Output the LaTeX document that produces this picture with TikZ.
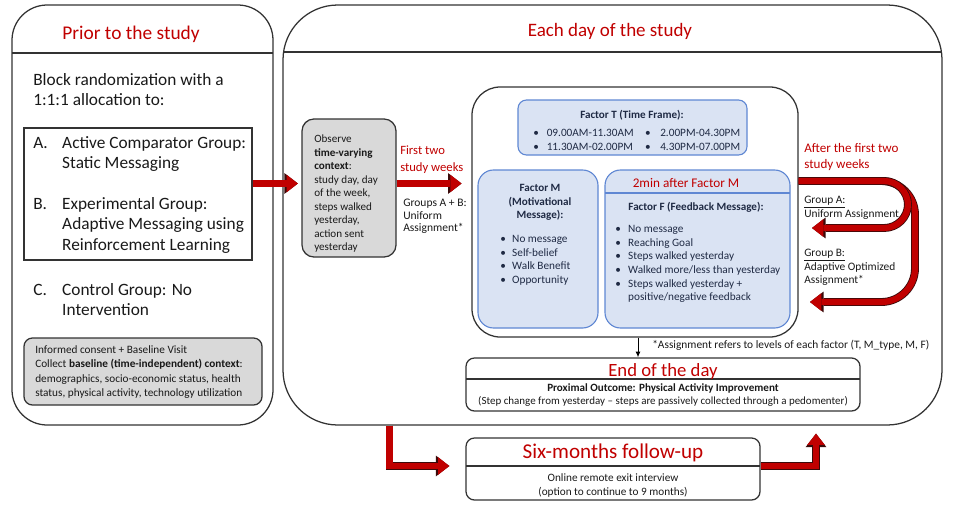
\documentclass[tikz,border=0pt]{standalone}
\usepackage{fontspec}
\setmainfont{Carlito}
\usepackage{tikz}
\usetikzlibrary{arrows.meta,fit}

\definecolor{titred}{HTML}{C00000}
\definecolor{arrred}{HTML}{C00000}
\definecolor{arredge}{HTML}{3A0A0A}
\definecolor{boxgray}{HTML}{D9D9D9}
\definecolor{factfill}{HTML}{DAE3F3}
\definecolor{factline}{HTML}{5F87D3}
\definecolor{facttext}{HTML}{1F2A44}
\definecolor{panelline}{HTML}{333333}

\newcommand{\fsz}[2]{\fontsize{#1}{#2}\selectfont}
\newcommand{\bul}{\textbullet}

\tikzset{
  panel/.style={draw=panelline, line width=0.9pt, rounded corners=#1, inner sep=0pt},
  graybox/.style={panel=#1, fill=boxgray},
  factor/.style={draw=factline, line width=0.8pt, fill=factfill, rounded corners=#1, inner sep=0pt},
  txt/.style={inner sep=0pt, anchor=base west, text=black!90},
  ftxt/.style={txt, text=facttext},
  redarrow/.style={draw=arrred, line width=4.4pt,
    -{Triangle[length=8pt,width=12.5pt,line width=0pt]},
    preaction={draw=arredge, line width=5.6pt,
      -{Triangle[length=9.6pt,width=14.8pt,line width=0pt]}}},
}

\begin{document}
\begin{tikzpicture}[x=0.025cm,y=-0.025cm]
  \useasboundingbox (0,0) rectangle (964,506);
  %
  % Prior to the study
  \node[panel=25pt, fit={(12,5) (273,425)}] (prior) {};
  \draw[panelline, line width=0.9pt] (12,53) -- (273,53);
  \node[txt, anchor=base, font=\fsz{13.8}{15}, text=titred] (priortitle) at (131,39) {Prior to the study};
  \node[txt, font=\fsz{12.3}{14.3}] (intro) at (33,85.5)
    {\begin{tabular}[t]{@{}l@{}}Block randomization with a\\1:1:1 allocation to:\end{tabular}};
  \node[panel=0pt, fit={(24,128) (252,260)}] (grp) {};
  \node[txt, font=\fsz{12.3}{14.3}] (grplist) at (33,148.5)
    {\begin{tabular}[t]{@{}p{20.6pt}@{}l@{}}
      A. & Active Comparator Group:\\
         & Static Messaging\\[15pt]
      B. & Experimental Group:\\
         & Adaptive Messaging using\\
         & Reinforcement Learning
    \end{tabular}};
  \node[txt, font=\fsz{12.3}{14.3}] (ctrl) at (33,295.5)
    {\begin{tabular}[t]{@{}p{20.6pt}@{}l@{}}
      C. & Control Group: No\\
         & Intervention
    \end{tabular}};
  \node[graybox=6pt, fit={(24,338) (262,405)}] (base) {};
  \node[txt, font=\fsz{8}{10.2}] (basetxt) at (35,353.5)
    {\begin{tabular}[t]{@{}l@{}}
      Informed consent + Baseline Visit\\
      Collect \textbf{baseline (time-independent) context}:\\
      demographics, socio-economic status, health\\
      status, physical activity, technology utilization
    \end{tabular}};
  %
  % Each day of the study
  \node[panel=39pt, fit={(283,5) (942,425)}] (study) {};
  \draw[panelline, line width=0.9pt] (283,52) -- (942,52);
  \node[txt, anchor=base, font=\fsz{13.5}{15}, text=titred] (studytitle) at (610,36) {Each day of the study};
  %
  \node[graybox=8.5pt, fit={(302,119) (396,257)}] (observe) {};
  \node[txt, font=\fsz{7.9}{9.6}] (obstxt) at (314,142.5)
    {\begin{tabular}[t]{@{}l@{}}
      Observe\\ \textbf{time-varying}\\ \textbf{context}:\\ study day, day\\ of the week,\\
      steps walked\\ yesterday,\\ action sent\\ yesterday
    \end{tabular}};
  \node[txt, font=\fsz{9}{12.1}, text=titred] (firsttwo) at (400,154)
    {\begin{tabular}[t]{@{}l@{}}First two\\study weeks\end{tabular}};
  \node[txt, font=\fsz{8.2}{9}] (uniform) at (403,206.5)
    {\begin{tabular}[t]{@{}l@{}}Groups A + B:\\Uniform\\Assignment*\end{tabular}};
  %
  \node[panel=20pt, fit={(472,87) (798,337)}] (daily) {};
  % factor T
  \node[factor=6pt, fit={(518,100) (747,155)}] (factT) {};
  \node[ftxt, anchor=base, font=\bfseries\fsz{7.9}{10}] (factTtitle) at (632,118.5) {Factor T (Time Frame):};
  \node[ftxt, font=\fsz{8}{10}] (factTlist) at (533,136.5)
    {\begin{tabular}[t]{@{}p{9.6pt}@{}p{70pt}@{}p{10.7pt}@{}l@{}}
      \bul & 09.00AM-11.30AM & \bul & 2.00PM-04.30PM\\
      \bul & 11.30AM-02.00PM & \bul & 4.30PM-07.00PM
    \end{tabular}};
  % factor M
  \node[factor=11pt, fit={(478,170) (598,328)}] (factM) {};
  \node[ftxt, anchor=base, font=\bfseries\fsz{7.9}{9.6}] (factMtitle) at (540,191.5)
    {\begin{tabular}[t]{@{}c@{}}Factor M\\(Motivational\\Message):\end{tabular}};
  \node[ftxt, font=\fsz{8}{9.7}] (factMlist) at (500,242.5)
    {\begin{tabular}[t]{@{}p{8.5pt}@{}l@{}}
      \bul & No message\\ \bul & Self-belief\\ \bul & Walk Benefit\\ \bul & Opportunity
    \end{tabular}};
  % factor F
  \node[factor=11pt, fit={(605,170) (790,328)}] (factF) {};
  \draw[factline, line width=0.8pt] (605,193) -- (790,193);
  \node[txt, anchor=base, font=\fsz{9.4}{11}, text=titred] (twomin) at (686,187) {2min after Factor M};
  \node[ftxt, anchor=base, font=\bfseries\fsz{7.9}{10}] (factFtitle) at (696,210.5) {Factor F (Feedback Message):};
  \node[ftxt, font=\fsz{8}{9.7}] (factFlist) at (615,232.5)
    {\begin{tabular}[t]{@{}p{9.2pt}@{}l@{}}
      \bul & No message\\ \bul & Reaching Goal\\ \bul & Steps walked yesterday\\
      \bul & Walked more/less than yesterday\\ \bul & Steps walked yesterday +\\
           & positive/negative feedback
    \end{tabular}};
  %
  \node[txt, font=\fsz{9.3}{11.4}, text=titred] (afterweeks) at (804,152)
    {\begin{tabular}[t]{@{}l@{}}After the first two\\study weeks\end{tabular}};
  \node[txt, font=\fsz{8.1}{9.2}] (grpA) at (804,203.5)
    {\begin{tabular}[t]{@{}l@{}}\underline{Group A:}\\Uniform Assignment\end{tabular}};
  \node[txt, font=\fsz{8.1}{9.5}] (grpB) at (804,256.5)
    {\begin{tabular}[t]{@{}l@{}}\underline{Group B:}\\Adaptive Optimized\\Assignment*\end{tabular}};
  \node[txt, font=\fsz{8.1}{9}] (note) at (652,348.5)
    {*Assignment refers to levels of each factor (T, M\_type, M, F)};
  %
  \node[panel=6pt, fit={(466,358) (860,411)}] (endday) {};
  \draw[panelline, line width=0.9pt] (466,379) -- (860,379);
  \node[txt, anchor=base, font=\fsz{13.3}{15}, text=titred] (endtitle) at (663,376) {End of the day};
  \node[txt, anchor=base, font=\bfseries\fsz{7.9}{9}] (proximal) at (663,391.5) {Proximal Outcome: Physical Activity Improvement};
  \node[txt, anchor=base, font=\fsz{7.8}{9}] (stepchange) at (663,404.5)
    {(Step change from yesterday – steps are passively collected through a pedomenter)};
  %
  % Six-months follow-up
  \node[panel=6pt, fit={(466,438) (760,500)}] (follow) {};
  \draw[panelline, line width=0.9pt] (466,466) -- (760,466);
  \node[txt, anchor=base, font=\fsz{15}{16}, text=titred] (followtitle) at (613,458.5) {Six-months follow-up};
  \node[txt, anchor=base, font=\fsz{8}{10}] (followtxt) at (613,481)
    {\begin{tabular}[t]{@{}c@{}}Online remote exit interview\\(option to continue to 9 months)\end{tabular}};
  %
  % connectors
  \coordinate (a1) at (275,183.5);
  \coordinate (ustart) at (798,181);
  \coordinate (uAcorner) at (908,181);
  \coordinate (uAturn) at (908,228);
  \coordinate (uAend) at (812,228);
  \coordinate (uBcorner) at (915,181);
  \coordinate (uBturn) at (915,302);
  \coordinate (uBend) at (810,302);
  \coordinate (dbend) at (389.5,466);
  \coordinate (ubend) at (816,466);
  \coordinate (dn) at (638,340);
  %
  \draw[redarrow, shorten >=2.5pt] (grp.east |- a1) -- (observe.west |- a1);
  \draw[redarrow, shorten >=7pt] (observe.east |- a1) -- (daily.west |- a1);
  \draw[redarrow, rounded corners=24pt] (daily.east |- ustart) -- (uBcorner) -- (uBturn) -- (uBend);
  \draw[redarrow, rounded corners=17pt] (daily.east |- ustart) -- (uAcorner) -- (uAturn) -- (uAend);
  \draw[-{Latex[length=4pt,width=3.5pt]}, line width=0.7pt] (daily.south -| dn) -- (endday.north -| dn);
  \draw[redarrow, shorten >=11.4pt] (study.south -| dbend) -- (dbend) -- (follow.west |- dbend);
  \draw[redarrow, shorten >=5.7pt] (follow.east |- ubend) -- (ubend) -- (study.south -| ubend);
\end{tikzpicture}
\end{document}
